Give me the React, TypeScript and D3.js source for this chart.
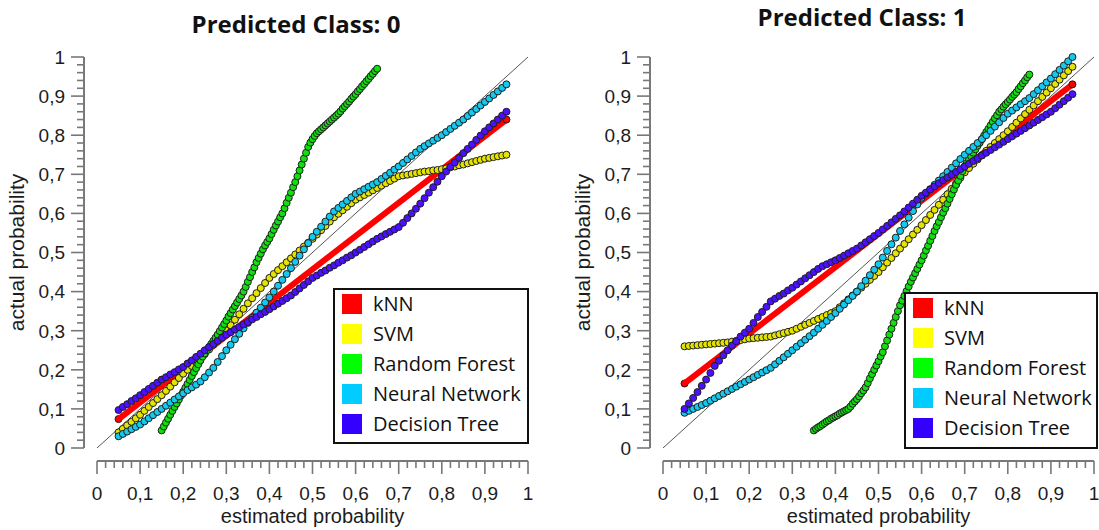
import React from "react";
import * as d3 from "d3";

// estimated probability grid shared by SVM / NN / DT curves
const estimated = [
  0.05, 0.06, 0.07, 0.08, 0.09, 0.1, 0.11, 0.12, 0.13, 0.14, 0.15, 0.16, 0.17, 0.18, 0.19, 0.2,
  0.21, 0.22, 0.23, 0.24, 0.25, 0.26, 0.27, 0.28, 0.29, 0.3, 0.31, 0.32, 0.33, 0.34, 0.35, 0.36,
  0.37, 0.38, 0.39, 0.4, 0.41, 0.42, 0.43, 0.44, 0.45, 0.46, 0.47, 0.48, 0.49, 0.5, 0.51, 0.52,
  0.53, 0.54, 0.55, 0.56, 0.57, 0.58, 0.59, 0.6, 0.61, 0.62, 0.63, 0.64, 0.65, 0.66, 0.67, 0.68,
  0.69, 0.7, 0.71, 0.72, 0.73, 0.74, 0.75, 0.76, 0.77, 0.78, 0.79, 0.8, 0.81, 0.82, 0.83, 0.84,
  0.85, 0.86, 0.87, 0.88, 0.89, 0.9, 0.91, 0.92, 0.93, 0.94, 0.95,
];

// random forest curves are sampled finer
const forestEstimated0 = [
  0.15, 0.155, 0.16, 0.165, 0.17, 0.175, 0.18, 0.185, 0.19, 0.195, 0.2, 0.205, 0.21, 0.215, 0.22,
  0.225, 0.23, 0.235, 0.24, 0.245, 0.25, 0.255, 0.26, 0.265, 0.27, 0.275, 0.28, 0.285, 0.29, 0.295,
  0.3, 0.305, 0.31, 0.315, 0.32, 0.325, 0.33, 0.335, 0.34, 0.345, 0.35, 0.355, 0.36, 0.365, 0.37,
  0.375, 0.38, 0.385, 0.39, 0.395, 0.4, 0.405, 0.41, 0.415, 0.42, 0.425, 0.43, 0.435, 0.44, 0.445,
  0.45, 0.455, 0.46, 0.465, 0.47, 0.475, 0.48, 0.485, 0.49, 0.495, 0.5, 0.505, 0.51, 0.515, 0.52,
  0.525, 0.53, 0.535, 0.54, 0.545, 0.55, 0.555, 0.56, 0.565, 0.57, 0.575, 0.58, 0.585, 0.59, 0.595,
  0.6, 0.605, 0.61, 0.615, 0.62, 0.625, 0.63, 0.635, 0.64, 0.645, 0.65,
];
const forestEstimated1 = [
  0.35, 0.355, 0.36, 0.365, 0.37, 0.375, 0.38, 0.385, 0.39, 0.395, 0.4, 0.405, 0.41, 0.415, 0.42,
  0.425, 0.43, 0.435, 0.44, 0.445, 0.45, 0.455, 0.46, 0.465, 0.47, 0.475, 0.48, 0.485, 0.49, 0.495,
  0.5, 0.505, 0.51, 0.515, 0.52, 0.525, 0.53, 0.535, 0.54, 0.545, 0.55, 0.555, 0.56, 0.565, 0.57,
  0.575, 0.58, 0.585, 0.59, 0.595, 0.6, 0.605, 0.61, 0.615, 0.62, 0.625, 0.63, 0.635, 0.64, 0.645,
  0.65, 0.655, 0.66, 0.665, 0.67, 0.675, 0.68, 0.685, 0.69, 0.695, 0.7, 0.705, 0.71, 0.715, 0.72,
  0.725, 0.73, 0.735, 0.74, 0.745, 0.75, 0.755, 0.76, 0.765, 0.77, 0.775, 0.78, 0.785, 0.79, 0.795,
  0.8, 0.805, 0.81, 0.815, 0.82, 0.825, 0.83, 0.835, 0.84, 0.845, 0.85,
];

// ---- Predicted Class: 0 ----
const knn0 = [[0.05, 0.074], [0.95, 0.84]];
const svm0 = [
  0.04, 0.049, 0.058, 0.067, 0.076, 0.085, 0.095, 0.105, 0.115, 0.125, 0.135, 0.146, 0.157, 0.168,
  0.179, 0.19, 0.2, 0.21, 0.22, 0.23, 0.24, 0.252, 0.264, 0.276, 0.288, 0.3, 0.314, 0.328, 0.342,
  0.356, 0.37, 0.383, 0.396, 0.409, 0.422, 0.435, 0.445, 0.455, 0.465, 0.475, 0.485, 0.495, 0.505,
  0.515, 0.525, 0.535, 0.546, 0.557, 0.568, 0.579, 0.59, 0.599, 0.608, 0.617, 0.626, 0.635, 0.641,
  0.647, 0.653, 0.659, 0.665, 0.671, 0.677, 0.683, 0.689, 0.695, 0.697, 0.699, 0.701, 0.703, 0.705,
  0.707, 0.708, 0.71, 0.711, 0.713, 0.715, 0.718, 0.72, 0.723, 0.725, 0.728, 0.731, 0.734, 0.737,
  0.74, 0.742, 0.744, 0.746, 0.748, 0.75,
];
const forest0 = [
  0.045, 0.055, 0.065, 0.075, 0.085, 0.095, 0.105, 0.114, 0.124, 0.134, 0.144, 0.154, 0.164, 0.174,
  0.184, 0.194, 0.204, 0.214, 0.224, 0.234, 0.242, 0.25, 0.258, 0.266, 0.274, 0.282, 0.29, 0.299,
  0.308, 0.317, 0.326, 0.336, 0.345, 0.354, 0.363, 0.372, 0.381, 0.39, 0.4, 0.412, 0.425, 0.437,
  0.45, 0.462, 0.475, 0.486, 0.497, 0.508, 0.518, 0.527, 0.536, 0.547, 0.558, 0.569, 0.579, 0.59,
  0.6, 0.613, 0.627, 0.64, 0.653, 0.667, 0.68, 0.695, 0.71, 0.725, 0.74, 0.755, 0.77, 0.781, 0.79,
  0.798, 0.805, 0.81, 0.815, 0.82, 0.825, 0.83, 0.835, 0.84, 0.845, 0.85, 0.855, 0.861, 0.868,
  0.874, 0.88, 0.886, 0.893, 0.899, 0.905, 0.912, 0.918, 0.925, 0.931, 0.938, 0.944, 0.951, 0.957,
  0.964, 0.97,
];
const neural0 = [
  0.03, 0.036, 0.042, 0.048, 0.054, 0.06, 0.068, 0.076, 0.084, 0.092, 0.1, 0.108, 0.116, 0.124,
  0.132, 0.14, 0.148, 0.155, 0.162, 0.17, 0.181, 0.193, 0.205, 0.22, 0.235, 0.25, 0.264, 0.278,
  0.292, 0.306, 0.32, 0.333, 0.346, 0.359, 0.372, 0.385, 0.4, 0.415, 0.43, 0.445, 0.46, 0.476,
  0.492, 0.508, 0.524, 0.54, 0.553, 0.566, 0.579, 0.592, 0.605, 0.614, 0.623, 0.632, 0.641, 0.65,
  0.656, 0.662, 0.668, 0.674, 0.68, 0.688, 0.696, 0.704, 0.712, 0.72, 0.729, 0.738, 0.747, 0.756,
  0.765, 0.772, 0.779, 0.786, 0.793, 0.8, 0.808, 0.816, 0.824, 0.832, 0.84, 0.849, 0.858, 0.867,
  0.876, 0.885, 0.894, 0.903, 0.912, 0.921, 0.93,
];
const tree0 = [
  0.097, 0.105, 0.112, 0.12, 0.127, 0.135, 0.143, 0.151, 0.159, 0.167, 0.175, 0.181, 0.188, 0.194,
  0.201, 0.207, 0.216, 0.224, 0.233, 0.241, 0.25, 0.258, 0.266, 0.274, 0.282, 0.29, 0.296, 0.303,
  0.309, 0.316, 0.322, 0.329, 0.335, 0.342, 0.348, 0.355, 0.362, 0.369, 0.376, 0.383, 0.39, 0.399,
  0.408, 0.417, 0.426, 0.435, 0.441, 0.448, 0.454, 0.461, 0.467, 0.474, 0.48, 0.487, 0.493, 0.5,
  0.507, 0.514, 0.521, 0.528, 0.535, 0.541, 0.547, 0.553, 0.559, 0.565, 0.576, 0.588, 0.6, 0.612,
  0.625, 0.639, 0.653, 0.667, 0.681, 0.695, 0.707, 0.719, 0.73, 0.742, 0.754, 0.765, 0.776, 0.788,
  0.799, 0.81, 0.82, 0.83, 0.84, 0.85, 0.86,
];

// ---- Predicted Class: 1 ----
const knn1 = [[0.05, 0.165], [0.95, 0.93]];
const svm1 = [
  0.26, 0.261, 0.262, 0.263, 0.264, 0.265, 0.266, 0.267, 0.268, 0.269, 0.27, 0.272, 0.274, 0.276,
  0.278, 0.28, 0.281, 0.282, 0.283, 0.284, 0.285, 0.288, 0.291, 0.294, 0.297, 0.3, 0.305, 0.31,
  0.315, 0.32, 0.325, 0.33, 0.335, 0.34, 0.345, 0.35, 0.36, 0.37, 0.38, 0.39, 0.4, 0.41, 0.42, 0.43,
  0.44, 0.45, 0.462, 0.474, 0.486, 0.498, 0.51, 0.522, 0.534, 0.546, 0.558, 0.57, 0.583, 0.596,
  0.609, 0.622, 0.635, 0.649, 0.663, 0.677, 0.691, 0.705, 0.716, 0.727, 0.738, 0.749, 0.76, 0.77,
  0.78, 0.79, 0.8, 0.81, 0.821, 0.832, 0.843, 0.854, 0.865, 0.876, 0.887, 0.898, 0.909, 0.92, 0.931,
  0.942, 0.953, 0.964, 0.975,
];
const forest1 = [
  0.045, 0.049, 0.053, 0.056, 0.06, 0.064, 0.068, 0.071, 0.075, 0.078, 0.081, 0.084, 0.088, 0.091,
  0.094, 0.097, 0.1, 0.106, 0.113, 0.119, 0.125, 0.132, 0.14, 0.147, 0.155, 0.166, 0.178, 0.189,
  0.2, 0.211, 0.222, 0.234, 0.245, 0.26, 0.275, 0.29, 0.305, 0.32, 0.335, 0.35, 0.365, 0.377, 0.389,
  0.401, 0.413, 0.425, 0.436, 0.447, 0.458, 0.469, 0.48, 0.492, 0.505, 0.517, 0.53, 0.542, 0.555,
  0.567, 0.578, 0.59, 0.602, 0.613, 0.625, 0.637, 0.649, 0.661, 0.673, 0.684, 0.696, 0.708, 0.72,
  0.729, 0.738, 0.746, 0.755, 0.764, 0.773, 0.781, 0.79, 0.799, 0.808, 0.816, 0.825, 0.834, 0.843,
  0.851, 0.86, 0.866, 0.873, 0.879, 0.885, 0.891, 0.898, 0.904, 0.91, 0.918, 0.925, 0.933, 0.94,
  0.948, 0.955,
];
const neural1 = [
  0.09, 0.095, 0.1, 0.105, 0.11, 0.115, 0.121, 0.127, 0.133, 0.139, 0.145, 0.151, 0.157, 0.163,
  0.169, 0.175, 0.181, 0.187, 0.193, 0.199, 0.205, 0.214, 0.223, 0.232, 0.241, 0.25, 0.259, 0.268,
  0.277, 0.286, 0.295, 0.305, 0.315, 0.325, 0.335, 0.345, 0.356, 0.367, 0.378, 0.389, 0.4, 0.414,
  0.428, 0.442, 0.456, 0.47, 0.487, 0.504, 0.521, 0.538, 0.555, 0.572, 0.589, 0.606, 0.623, 0.64,
  0.651, 0.662, 0.673, 0.684, 0.695, 0.706, 0.717, 0.728, 0.739, 0.75, 0.76, 0.77, 0.78, 0.79, 0.8,
  0.811, 0.822, 0.833, 0.844, 0.855, 0.863, 0.871, 0.879, 0.887, 0.895, 0.905, 0.915, 0.925, 0.935,
  0.945, 0.956, 0.967, 0.978, 0.989, 1.0,
];
const tree1 = [
  0.1, 0.114, 0.128, 0.143, 0.159, 0.175, 0.192, 0.21, 0.223, 0.237, 0.25, 0.262, 0.273, 0.285,
  0.295, 0.305, 0.32, 0.335, 0.348, 0.361, 0.375, 0.382, 0.389, 0.395, 0.403, 0.41, 0.418, 0.426,
  0.434, 0.442, 0.45, 0.458, 0.465, 0.47, 0.475, 0.48, 0.486, 0.492, 0.498, 0.504, 0.51, 0.518,
  0.526, 0.534, 0.542, 0.55, 0.559, 0.568, 0.577, 0.586, 0.595, 0.605, 0.615, 0.625, 0.635, 0.645,
  0.653, 0.661, 0.669, 0.677, 0.685, 0.692, 0.699, 0.706, 0.713, 0.72, 0.727, 0.734, 0.741, 0.748,
  0.755, 0.762, 0.769, 0.776, 0.783, 0.79, 0.797, 0.804, 0.811, 0.818, 0.825, 0.832, 0.839, 0.846,
  0.853, 0.86, 0.869, 0.878, 0.887, 0.896, 0.905,
];

const models = ["kNN", "SVM", "Random Forest", "Neural Network", "Decision Tree"];
const legendColors = ["#ff0000", "#ffff00", "#00ff00", "#00ccff", "#3300ff"];
const dotColors = ["#ff0000", "#e4e400", "#12dd12", "#14c8ee", "#4a10ff"];
const tickValues = [0, 0.1, 0.2, 0.3, 0.4, 0.5, 0.6, 0.7, 0.8, 0.9, 1];
const tickLabels = ["0", "0,1", "0,2", "0,3", "0,4", "0,5", "0,6", "0,7", "0,8", "0,9", "1"];

const axisGray = "#787878";
const textColor = "#1c1c1c";
const labelFont = "'Liberation Sans', Arial, sans-serif";
const uiFont = "'Open Sans', 'Noto Sans', sans-serif";

type Pt = [number, number];

const Dots = ({ pts, color, x, y }: { pts: Pt[]; color: string; x: any; y: any }) => (
  <g>
    {pts.map((d, i) => (
      <circle key={i} cx={x(d[0])} cy={y(d[1])} r={3.5} fill={color} stroke="#1e1e1e" strokeWidth={1} />
    ))}
  </g>
);

const Panel = ({
  left, title, titleBase, knn, series, legendBox,
}: {
  left: number; title: string; titleBase: number; knn: number[][]; series: Pt[][];
  legendBox: { x: number; y: number; w: number; h: number };
}) => {
  const x = d3.scaleLinear().domain([0, 1]).range([left, left + 431]);
  const y = d3.scaleLinear().domain([0, 1]).range([448, 57]);
  const axisX = left - 13;
  const axisY = 461;
  const minor = y.ticks(50);
  const line = d3.line<number[]>().x((d) => x(d[0])).y((d) => y(d[1]));

  return (
    <g>
      <text x={left + 199} y={titleBase} textAnchor="middle" fontFamily={uiFont} fontWeight={700}
        fontSize={24} fill="#111">{title}</text>

      {/* y axis */}
      <line x1={axisX} x2={axisX} y1={y(0)} y2={y(1)} stroke={axisGray} strokeWidth={2} />
      {minor.map((v, i) => {
        const major = i % 5 === 0;
        return <line key={i} x1={axisX - (major ? 13 : 7)} x2={axisX} y1={y(v)} y2={y(v)}
          stroke={axisGray} strokeWidth={1.6} />;
      })}
      {tickValues.map((v, i) => (
        <text key={i} x={axisX - 19} y={y(v)} dy="0.36em" textAnchor="end" fontFamily={labelFont}
          fontSize={19} fill={textColor}>{tickLabels[i]}</text>
      ))}
      <text transform={`translate(${axisX - 67},${y(0.5)}) rotate(-90)`} textAnchor="middle" dy="0.35em"
        fontFamily={labelFont} fontSize={21} fill={textColor}>actual probability</text>

      {/* x axis */}
      <line x1={x(0)} x2={x(1)} y1={axisY} y2={axisY} stroke={axisGray} strokeWidth={2} />
      {minor.map((v, i) => {
        const major = i % 5 === 0;
        return <line key={i} x1={x(v)} x2={x(v)} y1={axisY} y2={axisY + (major ? 13 : 7)}
          stroke={axisGray} strokeWidth={1.6} />;
      })}
      {tickValues.map((v, i) => (
        <text key={i} x={x(v)} y={500} textAnchor="middle" fontFamily={labelFont} fontSize={19}
          fill={textColor}>{tickLabels[i]}</text>
      ))}
      <text x={x(0.5)} y={523} textAnchor="middle" fontFamily={labelFont} fontSize={20}
        fill={textColor}>estimated probability</text>

      {/* perfect calibration */}
      <line x1={x(0)} y1={y(0)} x2={x(1)} y2={y(1)} stroke="#555" strokeWidth={1} />

      {/* kNN */}
      <circle cx={x(knn[0][0])} cy={y(knn[0][1])} r={3.5} fill={dotColors[0]} stroke="#1e1e1e" strokeWidth={1} />
      <path d={line(knn) || ""} stroke={dotColors[0]} strokeWidth={6} fill="none" />
      <circle cx={x(knn[1][0])} cy={y(knn[1][1])} r={3.5} fill={dotColors[0]} stroke="#1e1e1e" strokeWidth={1} />

      {series.map((pts, i) => (
        <Dots key={i} pts={pts} color={dotColors[i + 1]} x={x} y={y} />
      ))}

      {/* legend */}
      <rect x={legendBox.x} y={legendBox.y} width={legendBox.w} height={legendBox.h} fill="#fff"
        stroke="#111" strokeWidth={2} />
      {models.map((m, i) => (
        <g key={m}>
          <rect x={legendBox.x + 8} y={legendBox.y + 5 + i * 30} width={20} height={20}
            fill={legendColors[i]} />
          <text x={legendBox.x + 39} y={legendBox.y + 15 + i * 30} dy="0.36em" fontFamily={uiFont}
            fontSize={20} fill="#111">{m}</text>
        </g>
      ))}
    </g>
  );
};

const zipPts = (xs: number[], ys: number[]): Pt[] => xs.map((v, i) => [v, ys[i]] as Pt);

export default function App() {
  const class0 = [
    zipPts(estimated, svm0),
    zipPts(forestEstimated0, forest0),
    zipPts(estimated, neural0),
    zipPts(estimated, tree0),
  ];
  const class1 = [
    zipPts(estimated, svm1),
    zipPts(forestEstimated1, forest1),
    zipPts(estimated, neural1),
    zipPts(estimated, tree1),
  ];
  return (
    <svg width={1099} height={530} style={{ position: "absolute", left: 0, top: 0, background: "#fff" }}>
      <Panel left={97} title="Predicted Class: 0" titleBase={33} knn={knn0} series={class0}
        legendBox={{ x: 334, y: 289, w: 194, h: 154 }} />
      <Panel left={663} title="Predicted Class: 1" titleBase={26} knn={knn1} series={class1}
        legendBox={{ x: 905, y: 293, w: 192, h: 155 }} />
    </svg>
  );
}
